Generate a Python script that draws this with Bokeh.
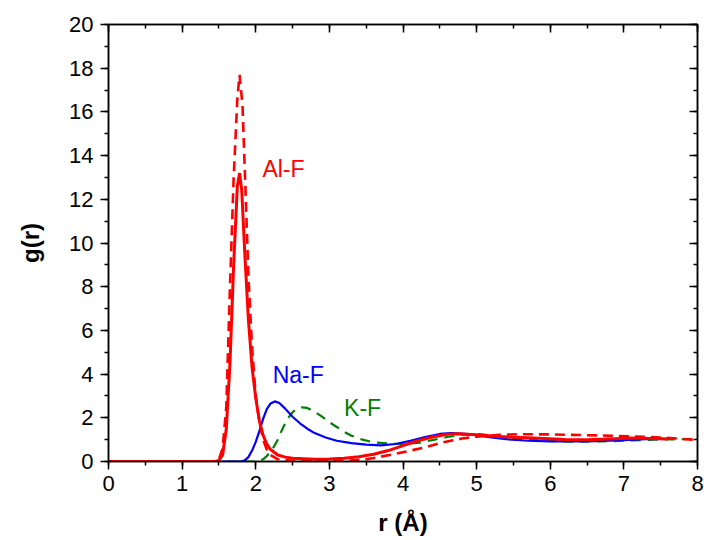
from bokeh.plotting import figure
from bokeh.models import Range1d, LinearAxis, SingleIntervalTicker, CustomJSTickFormatter
from bokeh.core.properties import value
from bokeh.embed import file_html
from bokeh.resources import INLINE

# Al-F (solid)
r_alf = [0.0, 1.45, 1.50, 1.55, 1.60, 1.65, 1.70, 1.75, 1.78, 1.81, 1.85, 1.90, 1.95, 2.00,
         2.05, 2.10, 2.15, 2.20, 2.30, 2.40, 2.50, 2.80, 3.00, 3.20, 3.40, 3.60, 3.80, 4.00,
         4.20, 4.40, 4.60, 4.75, 5.00, 5.30, 5.77, 6.20, 6.50, 6.80, 7.10, 7.50, 7.60]
g_alf = [0.0, 0.0, 0.05, 0.3, 1.5, 4.5, 9.0, 12.6, 13.2, 12.4, 9.6, 6.5, 4.3, 2.9,
         1.85, 1.2, 0.8, 0.55, 0.3, 0.2, 0.15, 0.1, 0.11, 0.15, 0.22, 0.33, 0.5, 0.73,
         0.95, 1.12, 1.25, 1.27, 1.22, 1.14, 1.08, 1.01, 0.99, 1.03, 1.07, 1.04, 1.03]

# Al-F (dashed)
r_alf2 = [0.0, 1.45, 1.50, 1.55, 1.60, 1.65, 1.70, 1.75, 1.78, 1.82, 1.86, 1.90, 1.95, 2.00,
          2.05, 2.10, 2.15, 2.20, 2.30, 2.50, 3.00, 3.30, 3.50, 3.70, 3.90, 4.06, 4.30,
          4.55, 4.80, 5.00, 5.30, 5.55, 6.00, 6.68, 7.10, 7.50, 7.95, 8.00]
g_alf2 = [0.0, 0.0, 0.1, 0.6, 2.5, 8.0, 13.0, 16.6, 17.7, 16.3, 12.5, 8.5, 5.2, 3.0,
          1.8, 1.0, 0.55, 0.3, 0.1, 0.03, 0.02, 0.05, 0.1, 0.22, 0.35, 0.47, 0.65,
          0.88, 1.05, 1.14, 1.22, 1.25, 1.24, 1.19, 1.15, 1.1, 1.0, 1.0]

# Na-F (solid)
r_naf = [0.0, 1.80, 1.85, 1.90, 1.95, 2.00, 2.05, 2.10, 2.15, 2.20, 2.26, 2.32, 2.40, 2.50,
         2.60, 2.70, 2.80, 2.95, 3.10, 3.30, 3.50, 3.70, 3.90, 4.10, 4.30, 4.50, 4.65,
         4.85, 5.00, 5.20, 5.40, 5.70, 6.00, 6.50, 7.00, 7.30, 7.60]
g_naf = [0.0, 0.0, 0.05, 0.2, 0.5, 0.9, 1.4, 1.95, 2.4, 2.65, 2.75, 2.68, 2.42, 2.05,
         1.75, 1.5, 1.3, 1.1, 0.95, 0.84, 0.77, 0.74, 0.8, 0.95, 1.12, 1.26, 1.3,
         1.27, 1.2, 1.1, 1.02, 0.95, 0.92, 0.92, 0.98, 1.02, 1.04]

# K-F (dashed)
r_kf = [0.0, 2.00, 2.05, 2.10, 2.15, 2.20, 2.25, 2.30, 2.35, 2.40, 2.45, 2.50, 2.55, 2.62,
        2.70, 2.80, 2.90, 3.00, 3.10, 3.20, 3.30, 3.45, 3.60, 3.80, 4.00, 4.20, 4.40,
        4.60, 4.80, 5.00, 5.20, 5.45, 5.70, 5.95, 6.30, 6.70, 7.00, 7.40, 8.00]
g_kf = [0.0, 0.0, 0.03, 0.1, 0.25, 0.45, 0.7, 1.0, 1.4, 1.75, 2.03, 2.25, 2.4, 2.48,
        2.45, 2.28, 2.05, 1.8, 1.58, 1.36, 1.18, 1.0, 0.88, 0.82, 0.8, 0.85, 0.98,
        1.12, 1.22, 1.26, 1.2, 1.08, 1.0, 0.94, 0.91, 0.92, 0.95, 1.0, 1.03]

label_text = ["Al-F", "Na-F", "K-F"]
label_x = [2.09, 2.23, 3.2]
label_y = [13.4, 3.94, 2.47]
label_color = ["#FF0000", "#0000FF", "#008000"]

FONT = "Liberation Sans"

p = figure(width=704, height=540, output_backend="svg", toolbar_location=None,
           x_range=Range1d(0, 8), y_range=Range1d(0, 20),
           min_border_left=108, min_border_right=7, min_border_top=24, min_border_bottom=79)
p.grid.visible = False
p.outline_line_color = "black"
p.outline_line_width = 1.5
p.background_fill_color = "white"
p.border_fill_color = "white"

p.xaxis.ticker = SingleIntervalTicker(interval=1, num_minor_ticks=2)
p.yaxis.ticker = SingleIntervalTicker(interval=2, num_minor_ticks=2)

for ax in (p.xaxis[0], p.yaxis[0]):
    ax.axis_line_width = 1.5
    ax.major_tick_line_width = 1.5
    ax.minor_tick_line_width = 1.5
    ax.major_tick_out = 8
    ax.major_tick_in = 0
    ax.minor_tick_out = 4
    ax.minor_tick_in = 0
    ax.major_label_text_font = FONT
    ax.major_label_text_font_size = "22px"
    ax.major_label_text_color = "black"
    ax.axis_label_text_font = FONT
    ax.axis_label_text_font_size = "24px"
    ax.axis_label_text_font_style = "bold"
    ax.axis_label_text_color = "black"

p.xaxis.axis_label = "r (Å)"
p.yaxis.axis_label = "g(r)"
p.xaxis.major_label_standoff = 6
p.xaxis.axis_label_standoff = 15
p.yaxis.major_label_standoff = 7
p.yaxis.axis_label_standoff = 22

top = LinearAxis(ticker=SingleIntervalTicker(interval=1, num_minor_ticks=2),
                 formatter=CustomJSTickFormatter(code="return ''"))
right = LinearAxis(ticker=SingleIntervalTicker(interval=2, num_minor_ticks=2),
                   formatter=CustomJSTickFormatter(code="return ''"))
for ax in (top, right):
    ax.axis_line_width = 1.5
    ax.major_tick_line_width = 1.5
    ax.minor_tick_line_width = 1.5
    ax.major_tick_in = 8
    ax.major_tick_out = 0
    ax.minor_tick_in = 4
    ax.minor_tick_out = 0
    ax.major_label_text_color = None
    ax.major_label_standoff = 0
p.add_layout(top, "above")
p.add_layout(right, "right")

p.line(r_kf, g_kf, line_color="#008000", line_width=2.2, line_dash="10 7")
p.line(r_naf, g_naf, line_color="#0000FF", line_width=2.2)
p.line(r_alf2, g_alf2, line_color="#FF0000", line_width=2.6, line_dash="10 6")
p.line(r_alf, g_alf, line_color="#FF0000", line_width=3)

p.text(x=label_x, y=label_y, text=label_text, text_color=label_color,
       text_font=value(FONT), text_font_size="23px", text_baseline="middle", text_align="left")

open("out.html", "w").write(file_html(p, INLINE))
